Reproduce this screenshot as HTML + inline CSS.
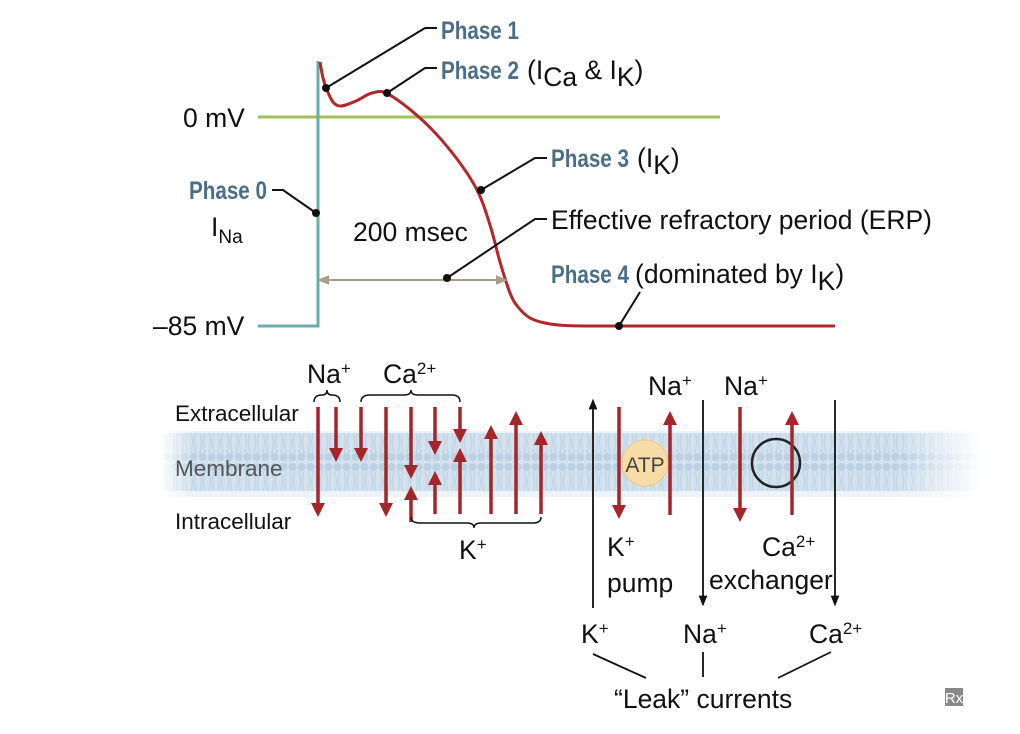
<!DOCTYPE html>
<html><head><meta charset="utf-8"><style>
html,body{margin:0;padding:0;background:#fff;}
svg{display:block;font-family:"Liberation Sans",sans-serif;}
.ph{font-family:"Liberation Sans Narrow","Liberation Sans",sans-serif;font-weight:bold;fill:#4a6e86;font-size:25px;}
.t{font-size:26.5px;fill:#111;}
.s{font-size:22.5px;fill:#111;}
</style></head><body>
<svg width="1020" height="734" viewBox="0 0 1020 734">
<defs>
<linearGradient id="mfade" x1="0" x2="1" y1="0" y2="0">
<stop offset="0" stop-color="#fff" stop-opacity="1"/><stop offset="0.04" stop-color="#fff" stop-opacity="0"/>
<stop offset="0.9" stop-color="#fff" stop-opacity="0"/><stop offset="1" stop-color="#fff" stop-opacity="1"/></linearGradient>
<pattern id="lip" width="9" height="66" patternUnits="userSpaceOnUse">
<rect width="9" height="66" fill="#d3e2ee"/>
<circle cx="4.5" cy="5" r="4" fill="#bcd1e3"/><circle cx="4.5" cy="61" r="4" fill="#bcd1e3"/>
<path d="M2 9 Q5 20 2 30 M7 9 Q4 20 7 30 M2 36 Q5 46 2 57 M7 36 Q4 46 7 57" stroke="#c2d6e7" fill="none" stroke-width="1.5"/>
<rect y="29" width="9" height="8" fill="#edf3f8"/>
</pattern>
<marker id="ar" viewBox="0 0 10 10" refX="5" refY="5" markerWidth="4" markerHeight="4" orient="auto-start-reverse"><path d="M0 0L10 5L0 10z" fill="#a3262a"/></marker>
<marker id="ab" viewBox="0 0 10 10" refX="5" refY="5" markerWidth="6" markerHeight="6" orient="auto-start-reverse"><path d="M0 1L10 5L0 9z" fill="#111"/></marker>
<marker id="ag" viewBox="0 0 10 10" refX="5" refY="5" markerWidth="6" markerHeight="6" orient="auto-start-reverse"><path d="M0 1L10 5L0 9z" fill="#a89f86"/></marker>
</defs>

<line x1="258" y1="117" x2="720" y2="117" stroke="#9fc15a" stroke-width="3"/>
<path d="M258 326 H318 V61" stroke="#6aaca8" stroke-width="3" fill="none"/>
<path id="ap" d="" stroke="#b1272b" stroke-width="3" fill="none"/>
<text x="183" y="127" class="t">0 mV</text>
<text x="153" y="335" class="t">–85 mV</text>
<line x1="323" y1="280" x2="502" y2="280" stroke="#a89f86" stroke-width="2" marker-start="url(#ag)" marker-end="url(#ag)"/>
<text x="353" y="241" class="t">200 msec</text>

<g stroke="#111" stroke-width="2" fill="none">
<path d="M326 88 L425 28 H437"/><path d="M387 93 L425 68 H437"/><path d="M481 190 L535 158 H547"/>
<path d="M316 213 L283 190 H272"/><path d="M447 278 L535 219 H547"/><path d="M619 326 L640 292"/>
</g>
<g fill="#111"><circle cx="326" cy="88" r="4"/><circle cx="387" cy="93" r="4"/><circle cx="481" cy="190" r="4"/><circle cx="316" cy="213" r="4"/><circle cx="447" cy="278" r="4"/><circle cx="619" cy="326" r="4"/></g>

<text x="441" y="39" class="ph" textLength="78" lengthAdjust="spacingAndGlyphs">Phase 1</text>
<text x="441" y="79"><tspan class="ph" textLength="78" lengthAdjust="spacingAndGlyphs">Phase 2</tspan><tspan class="t" dx="8">(I</tspan><tspan class="t" font-size="19" dy="7">Ca</tspan><tspan class="t" dy="-7"> &amp; I</tspan><tspan class="t" font-size="19" dy="7">K</tspan><tspan class="t" dy="-7">)</tspan></text>
<text x="551" y="167"><tspan class="ph" textLength="78" lengthAdjust="spacingAndGlyphs">Phase 3</tspan><tspan class="t" dx="8">(I</tspan><tspan class="t" font-size="19" dy="7">K</tspan><tspan class="t" dy="-7">)</tspan></text>
<text x="551" y="229" class="t">Effective refractory period (ERP)</text>
<text x="551" y="283"><tspan class="ph" textLength="78" lengthAdjust="spacingAndGlyphs">Phase 4</tspan><tspan class="t" dx="6">(dominated by I</tspan><tspan class="t" font-size="19" dy="7">K</tspan><tspan class="t" dy="-7">)</tspan></text>
<text x="189" y="199" class="ph" textLength="78" lengthAdjust="spacingAndGlyphs">Phase 0</text>
<text x="211" y="236" class="t">I<tspan font-size="19" dy="7">Na</tspan></text>

<rect x="160" y="431" width="820" height="66" fill="url(#lip)"/>
<rect x="160" y="429" width="822" height="70" fill="url(#mfade)"/>
<text x="175" y="421" class="s">Extracellular</text>
<text x="175" y="476" class="s" style="fill:#555">Membrane</text>
<text x="175" y="529" class="s">Intracellular</text>

<g id="red" stroke="#a3262a" stroke-width="3.5" fill="none"></g>
<circle cx="645" cy="463" r="23" fill="#f8dca6" stroke="#e9c98a"/>
<text x="645" y="472" text-anchor="middle" font-size="21" fill="#444">ATP</text>
<circle cx="776" cy="463" r="24" fill="none" stroke="#222" stroke-width="2.5"/>
<g id="red2" stroke="#a3262a" stroke-width="3.5" fill="none"></g>
<g stroke="#111" stroke-width="1.8" fill="none">
<line x1="593" y1="608" x2="593" y2="404" marker-end="url(#ab)"/>
<line x1="703" y1="400" x2="703" y2="601" marker-end="url(#ab)"/>
<line x1="835" y1="400" x2="835" y2="601" marker-end="url(#ab)"/>
<path d="M593 654 L646 678 M703 652 V677 M831 652 L778 678"/>
</g>
<g stroke="#111" stroke-width="1.5" fill="none">
<path d="M314 402 Q314 395 322 395 Q327 395 327 390 Q327 395 332 395 Q340 395 340 402"/>
<path d="M361 402 Q361 395 370 395 L404 395 Q411 395 411 390 Q411 395 418 395 L452 395 Q460 395 460 402"/>
<path d="M411 517 Q411 523 420 523 L467 523 Q474 523 474 528 Q474 523 481 523 L533 523 Q541 523 541 517"/>
</g>
<g class="t">
<text x="307" y="383">Na<tspan font-size="17" dy="-9">+</tspan></text>
<text x="383" y="383">Ca<tspan font-size="17" dy="-9">2+</tspan></text>
<text x="459" y="559">K<tspan font-size="17" dy="-9">+</tspan></text>
<text x="648" y="395">Na<tspan font-size="17" dy="-9">+</tspan></text>
<text x="724" y="395">Na<tspan font-size="17" dy="-9">+</tspan></text>
<text x="607" y="556">K<tspan font-size="17" dy="-9">+</tspan></text>
<text x="607" y="592">pump</text>
<text x="762" y="556">Ca<tspan font-size="17" dy="-9">2+</tspan></text>
<text x="709" y="589">exchanger</text>
<text x="581" y="643">K<tspan font-size="17" dy="-9">+</tspan></text>
<text x="683" y="643">Na<tspan font-size="17" dy="-9">+</tspan></text>
<text x="809" y="643">Ca<tspan font-size="17" dy="-9">2+</tspan></text>
<text x="614" y="708">“Leak” currents</text>
</g>
<rect x="945" y="688" width="18" height="18" fill="#888"/>
<text x="954" y="703" text-anchor="middle" font-size="15" fill="#fff">Rx</text>
</svg>
<script>
const apTimes=[320,323,327,333,341,356,372,388,420,450,476,490,500,510,518,530,545,565,600,700,835];
const apVolts=[62,78,90,102,106,101,93,94,118,150,188,225,262,293,307,318,323,325.5,326,326,326];
const P=apTimes.map((t,i)=>[t,apVolts[i]]);
let d='M'+P[0][0]+' '+P[0][1];
for(let i=0;i<P.length-1;i++){
 const p0=P[Math.max(0,i-1)],p1=P[i],p2=P[i+1],p3=P[Math.min(P.length-1,i+2)];
 const c1=[p1[0]+(p2[0]-p0[0])/6,p1[1]+(p2[1]-p0[1])/6];
 const c2=[p2[0]-(p3[0]-p1[0])/6,p2[1]-(p3[1]-p1[1])/6];
 d+=' C'+c1[0]+' '+c1[1]+' '+c2[0]+' '+c2[1]+' '+p2[0]+' '+p2[1];
}
document.getElementById('ap').setAttribute('d',d);
const arrowsX=[318,336,361,386,411,435,460,411,435,460,491,516,541,619,670,740,792];
const arrowsY1=[407,407,407,407,407,407,407,522,514,514,514,514,514,407,515,407,515];
const arrowsY2=[510,455,455,510,472,448,436,493,478,455,432,418,438,512,418,515,418];
const ns='http://www.w3.org/2000/svg';
for(let i=0;i<arrowsX.length;i++){
 const l=document.createElementNS(ns,'line');
 l.setAttribute('x1',arrowsX[i]);l.setAttribute('x2',arrowsX[i]);
 l.setAttribute('y1',arrowsY1[i]);l.setAttribute('y2',arrowsY2[i]);
 l.setAttribute('marker-end','url(#ar)');
 
 
 document.getElementById(i>=13?'red2':'red').appendChild(l);
}
</script>
</body></html>
